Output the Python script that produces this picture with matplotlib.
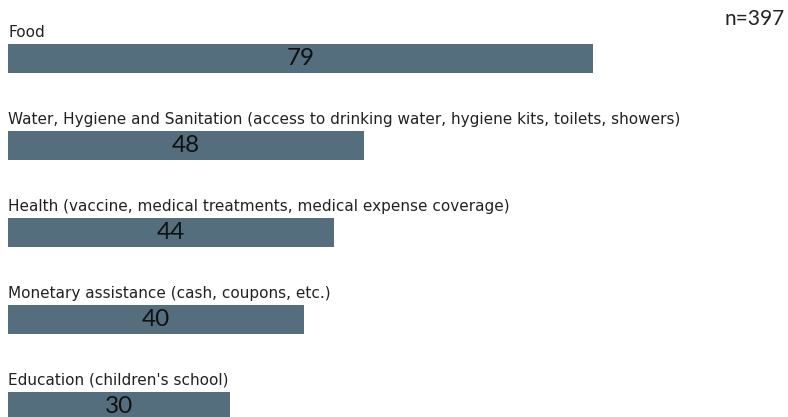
import matplotlib.pyplot as plt

categories = [
    'Food',
    'Water, Hygiene and Sanitation (access to drinking water, hygiene kits, toilets, showers)',
    'Health (vaccine, medical treatments, medical expense coverage)',
    'Monetary assistance (cash, coupons, etc.)',
    "Education (children's school)",
]
values = [79, 48, 44, 40, 30]
n_label = 'n=397'

bar_color = '#546e7e'
plt.rcParams['font.family'] = ['DejaVu Sans']

fig = plt.figure(figsize=(7.88, 4.17), dpi=100)
ax = fig.add_axes([0, 0, 1, 1])

pos = list(range(len(values)))
ax.barh(pos, values, height=0.333, color=bar_color)

for i, (cat, v) in enumerate(zip(categories, values)):
    ax.text(0, i - 0.247, cat, fontsize=11, color='#222222', va='baseline', ha='left')
    ax.text(v / 2, i, str(v), fontsize=17.5, color='#111111', va='center', ha='center',
            family='Lato')

ax.text(0.996, 0.94, n_label, transform=ax.transAxes, fontsize=15,
        color='#222222', ha='right', va='baseline', family='Lato')

ax.set_xlim(-1.08, 105.3)
ax.set_ylim(4.121, -0.672)
ax.axis('off')

fig.savefig('out.png', dpi=100)
